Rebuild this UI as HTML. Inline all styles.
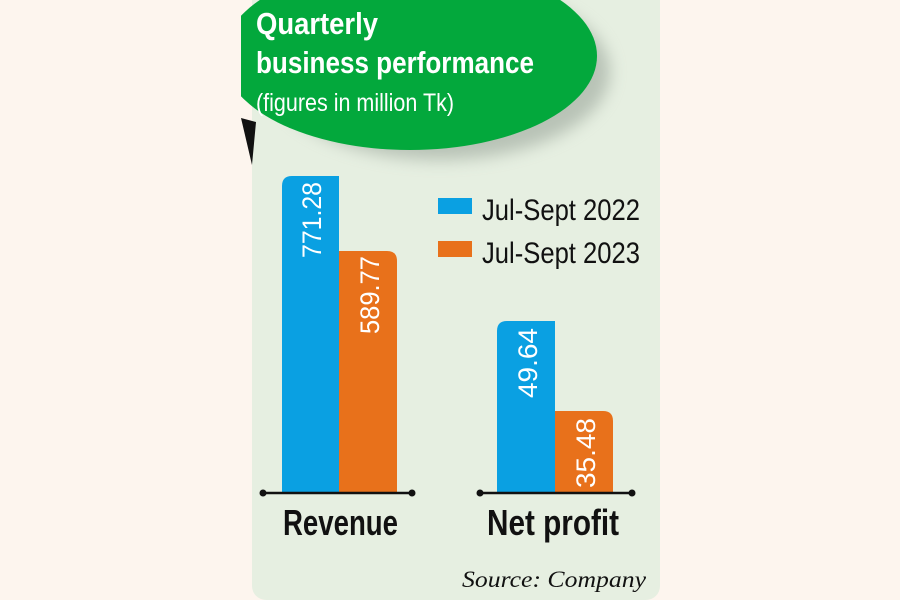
<!DOCTYPE html>
<html><head><meta charset="utf-8"><style>
html,body{margin:0;padding:0;background:#fdf5ee;}
svg{display:block}
text{font-family:"Liberation Sans Narrow","Liberation Sans",sans-serif;}
</style></head><body>
<svg width="900" height="600" viewBox="0 0 900 600" xmlns="http://www.w3.org/2000/svg">
<defs>
<clipPath id="pc"><rect x="252" y="-20" width="408" height="620" rx="14"/></clipPath>
<clipPath id="ec"><rect x="241" y="0" width="420" height="200"/></clipPath>
<filter id="sh" x="-20%" y="-20%" width="140%" height="150%"><feGaussianBlur stdDeviation="8"/></filter>
</defs>
<rect x="0" y="0" width="900" height="600" fill="#fdf5ee"/>
<g clip-path="url(#pc)">
<rect x="252" y="-20" width="408" height="620" fill="#e6efe1"/>
<ellipse cx="440" cy="72" rx="170" ry="88" fill="#9aa59a" opacity="0.6" filter="url(#sh)"/>
</g>
<g clip-path="url(#ec)">
<path d="M241 118 L256 122 L252 165 Z" fill="#111"/>
<ellipse cx="410" cy="56" rx="187" ry="94" fill="#03a83c"/>
</g>
<text x="256" y="34" font-size="31" font-weight="bold" fill="#fff" textLength="122" lengthAdjust="spacingAndGlyphs">Quarterly</text>
<text x="256" y="73" font-size="31" font-weight="bold" fill="#fff" textLength="278" lengthAdjust="spacingAndGlyphs">business performance</text>
<text x="256" y="111" font-size="25" fill="#fff" textLength="198" lengthAdjust="spacingAndGlyphs">(figures in million Tk)</text>

<path d="M282 492 V186 Q282 176 292 176 H339 V492 Z" fill="#0aa0e2"/>
<path d="M339 492 V251 H387 Q397 251 397 261 V492 Z" fill="#e8711b"/>
<path d="M497 492 V331 Q497 321 507 321 H555 V492 Z" fill="#0aa0e2"/>
<path d="M555 492 V411 H603 Q613 411 613 421 V492 Z" fill="#e8711b"/>

<g fill="#fff" font-size="27">
<text transform="translate(321,258) rotate(-90)" textLength="76" lengthAdjust="spacingAndGlyphs">771.28</text>
<text transform="translate(379,334) rotate(-90)" textLength="78" lengthAdjust="spacingAndGlyphs">589.77</text>
<text transform="translate(537,398) rotate(-90)" textLength="70" lengthAdjust="spacingAndGlyphs">49.64</text>
<text transform="translate(595,488) rotate(-90)" textLength="70" lengthAdjust="spacingAndGlyphs">35.48</text>
</g>

<rect x="438" y="198" width="34" height="16" fill="#0aa0e2"/>
<rect x="438" y="241" width="34" height="16" fill="#e8711b"/>
<text x="482" y="220" font-size="30" fill="#111" textLength="158" lengthAdjust="spacingAndGlyphs">Jul-Sept 2022</text>
<text x="482" y="263" font-size="30" fill="#111" textLength="158" lengthAdjust="spacingAndGlyphs">Jul-Sept 2023</text>

<g stroke="#111" stroke-width="2.5">
<line x1="263" y1="493" x2="412" y2="493"/>
<line x1="480" y1="493" x2="632" y2="493"/>
</g>
<g fill="#111">
<circle cx="263" cy="493" r="3.5"/><circle cx="412" cy="493" r="3.5"/>
<circle cx="480" cy="493" r="3.5"/><circle cx="632" cy="493" r="3.5"/>
</g>

<text x="283" y="535" font-size="36" font-weight="bold" fill="#111" textLength="115" lengthAdjust="spacingAndGlyphs">Revenue</text>
<text x="487" y="535" font-size="36" font-weight="bold" fill="#111" textLength="132" lengthAdjust="spacingAndGlyphs">Net profit</text>
<text x="462" y="587" font-size="23" font-style="italic" fill="#111" style="font-family:'Liberation Serif',serif" textLength="184" lengthAdjust="spacingAndGlyphs">Source: Company</text>
</svg>
</body></html>
